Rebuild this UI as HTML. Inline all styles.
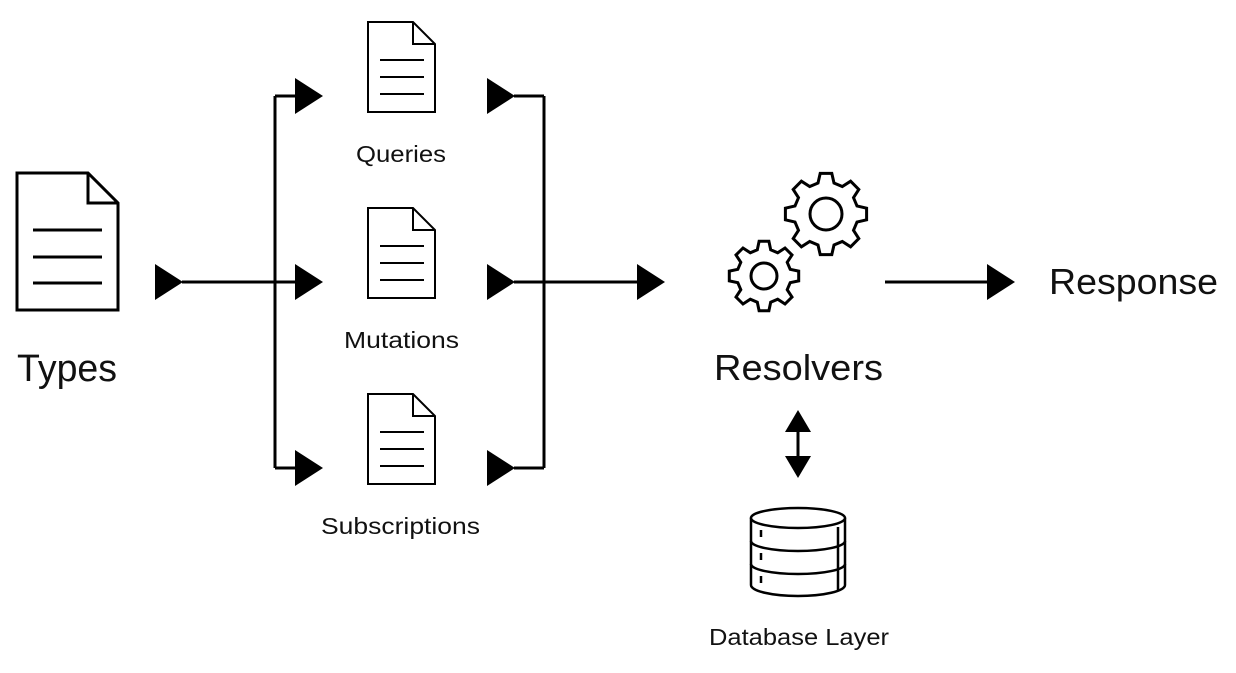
<!DOCTYPE html>
<html><head><meta charset="utf-8"><style>
html,body{margin:0;padding:0;background:#fff;}
svg{display:block;}
text{font-family:"Liberation Sans",sans-serif;fill:#111;}
</style></head><body>
<svg id="s" width="1236" height="673" viewBox="0 0 1236 673" xmlns="http://www.w3.org/2000/svg">
<g fill="none" stroke="#000" stroke-width="3">
  <path d="M17 173 H88 L118 203 V310 H17 Z"/>
  <path d="M88 173 V203 H118"/>
  <path d="M33 230H102M33 257H102M33 283H102"/>
  <g id="d1">
    <path d="M368 22 H413 L435 44 V112 H368 Z" stroke-width="2"/>
    <path d="M413 22 V44 H435" stroke-width="2"/>
    <path d="M380 60H424M380 77H424M380 94H424" stroke-width="2"/>
  </g>
  <use href="#d1" y="186"/>
  <use href="#d1" y="372"/>
  <path d="M182 282H296M275 96V468M275 96H296M275 468H296"/>
  <path d="M514 96H544M514 282H640M514 468H544M544 96V468"/>
  <path d="M885 282H990"/>
  <path d="M798 424V462"/>
</g>
<g fill="#000">
  <path d="M155 264L183 282L155 300Z"/>
  <path d="M295 264L323 282L295 300Z"/>
  <path d="M295 78L323 96L295 114Z"/>
  <path d="M295 450L323 468L295 486Z"/>
  <path d="M487 78L515 96L487 114Z"/>
  <path d="M487 264L515 282L487 300Z"/>
  <path d="M487 450L515 468L487 486Z"/>
  <path d="M637 264L665 282L637 300Z"/>
  <path d="M987 264L1015 282L987 300Z"/>
  <path d="M785 432L798 410L811 432Z"/>
  <path d="M785 456L798 478L811 456Z"/>
</g>
<g fill="none" stroke="#000" stroke-width="3">
  <path id="g1"/>
  <circle cx="826" cy="214" r="16"/>
  <path id="g2"/>
  <circle cx="764" cy="276" r="13"/>
</g>
<g fill="#fff" stroke="#000" stroke-width="2.5">
  <path d="M751 518 V585 A47 11 0 0 0 845 585 V518"/>
  <ellipse cx="798" cy="518" rx="47" ry="10"/>
  <path d="M751 541 A47 10 0 0 0 845 541 M751 564 A47 10 0 0 0 845 564" fill="none"/>
  <path d="M838 527V590M761 530V537M761 553V560M761 576V583" fill="none"/>
</g>
<text x="17" y="381" font-size="38" textLength="100" lengthAdjust="spacingAndGlyphs">Types</text>
<text x="356" y="162" font-size="23" textLength="90" lengthAdjust="spacingAndGlyphs">Queries</text>
<text x="344" y="348" font-size="23" textLength="115" lengthAdjust="spacingAndGlyphs">Mutations</text>
<text x="321" y="534" font-size="23" textLength="159" lengthAdjust="spacingAndGlyphs">Subscriptions</text>
<text x="714" y="380" font-size="36" textLength="169" lengthAdjust="spacingAndGlyphs">Resolvers</text>
<text x="1049" y="294" font-size="36" textLength="169" lengthAdjust="spacingAndGlyphs">Response</text>
<text x="709" y="645" font-size="23" textLength="180" lengthAdjust="spacingAndGlyphs">Database Layer</text>
</svg>
<script>
function gear(cx,cy,ro,ri,n){
  var d="",step=2*Math.PI/n;
  for(var i=0;i<n;i++){
    var a=i*step-Math.PI/2;
    var pts=[[ri,a-step*0.32],[ro,a-step*0.18],[ro,a+step*0.18],[ri,a+step*0.32]];
    pts.forEach(function(p,j){
      var x=cx+p[0]*Math.cos(p[1]),y=cy+p[0]*Math.sin(p[1]);
      d+=(i==0&&j==0?"M":"L")+x.toFixed(1)+" "+y.toFixed(1)+" ";
    });
  }
  return d+"Z";
}
document.getElementById("g1").setAttribute("d",gear(826,214,41,32,8));
document.getElementById("g2").setAttribute("d",gear(764,276,35,27,8));
</script>
</body></html>
